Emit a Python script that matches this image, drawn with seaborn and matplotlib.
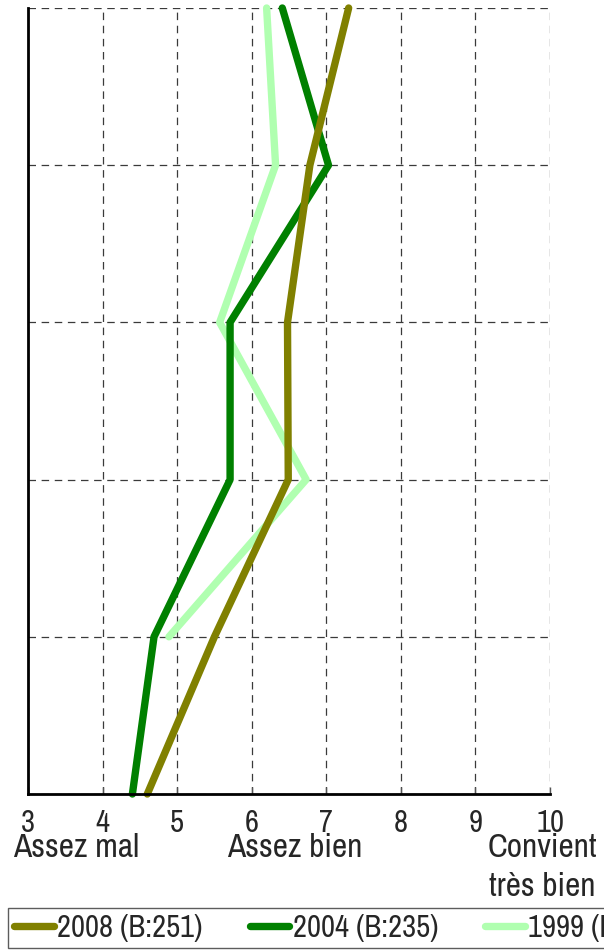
import pandas as pd
import matplotlib
matplotlib.use('Agg')
import matplotlib.pyplot as plt
import seaborn as sns

# Values (rows top to bottom, no row labels shown)
rows = [0, 1, 2, 3, 4, 5]
score_2008 = [7.30, 6.78, 6.48, 6.49, 5.50, 4.60]
score_2004 = [6.41, 7.03, 5.71, 5.71, 4.69, 4.40]
score_1999 = [6.20, 6.32, 5.57, 6.73, 4.89]

series_names = ['2008 (B:251)', '2004 (B:235)', '1999 (B:227)']
series_colors = ['#808000', '#008000', '#b0ffb0']

x_ticks = [3, 4, 5, 6, 7, 8, 9, 10]
cat_labels = ['Assez mal', 'Assez bien', 'Convient\ntrès bien']
cat_pos = [3.65, 6.58, 9.9]

# long-form table
df = pd.concat([
    pd.DataFrame({'row': rows, 'score': score_2008, 'serie': series_names[0]}),
    pd.DataFrame({'row': rows, 'score': score_2004, 'serie': series_names[1]}),
    pd.DataFrame({'row': rows[:len(score_1999)], 'score': score_1999, 'serie': series_names[2]}),
])

sns.set_style('white')
plt.rcParams['font.family'] = ['Liberation Sans Narrow', 'Archivo Narrow', 'DejaVu Sans']

fig = plt.figure(figsize=(6.04, 9.51), dpi=100)
ax = fig.add_axes([28 / 604, 1 - 794 / 951, (550 - 28) / 604, (794 - 8) / 951])

# draw 1999 first so 2008 ends on top
draw_order = [series_names[2], series_names[1], series_names[0]]
palette = dict(zip(series_names, series_colors))
for name in draw_order:
    sns.lineplot(data=df[df['serie'] == name], x='score', y='row', orient='y',
                 color=palette[name], linewidth=5.3, ax=ax, label=name,
                 solid_capstyle='round', clip_on=False, zorder=3)

ax.set_xlim(3, 10)
ax.set_ylim(5, 0)
ax.set_xticks(x_ticks)
ax.set_xticklabels([str(t) for t in x_ticks])
ax.set_yticks(rows)
ax.set_yticklabels([])
ax.set_xlabel('')
ax.set_ylabel('')

ax.grid(True, color='#3a3a3a', linewidth=0.9, linestyle=(0, (6, 4.5)))
ax.tick_params(axis='x', direction='in', length=5, width=1, color='#555555',
               labelsize=22, pad=11, bottom=True)
ax.tick_params(axis='y', length=0)

for side in ['top', 'right']:
    ax.spines[side].set_visible(False)
for side in ['left', 'bottom']:
    ax.spines[side].set_color('black')
    ax.spines[side].set_linewidth(2)
    ax.spines[side].set_zorder(4)

for lab, pos in zip(cat_labels, cat_pos):
    ax.text(pos, -0.050, lab, transform=ax.get_xaxis_transform(), ha='center',
            va='top', fontsize=24, linespacing=1.35)

# legend in the order 2008, 2004, 1999
handles, labels = ax.get_legend_handles_labels()
order = [labels.index(n) for n in series_names]
ax.get_legend().remove()
leg = fig.legend([handles[i] for i in order], [labels[i] for i in order],
                 loc='upper left', bbox_to_anchor=(8 / 604, 1 - 908 / 951),
                 ncol=3, fontsize=22, frameon=True, fancybox=False,
                 borderpad=0.2, borderaxespad=0, handlelength=1.3,
                 handletextpad=0.1, columnspacing=1.55)
leg.get_frame().set_edgecolor('#333333')
leg.get_frame().set_linewidth(1)

fig.savefig('out.png', dpi=100)
